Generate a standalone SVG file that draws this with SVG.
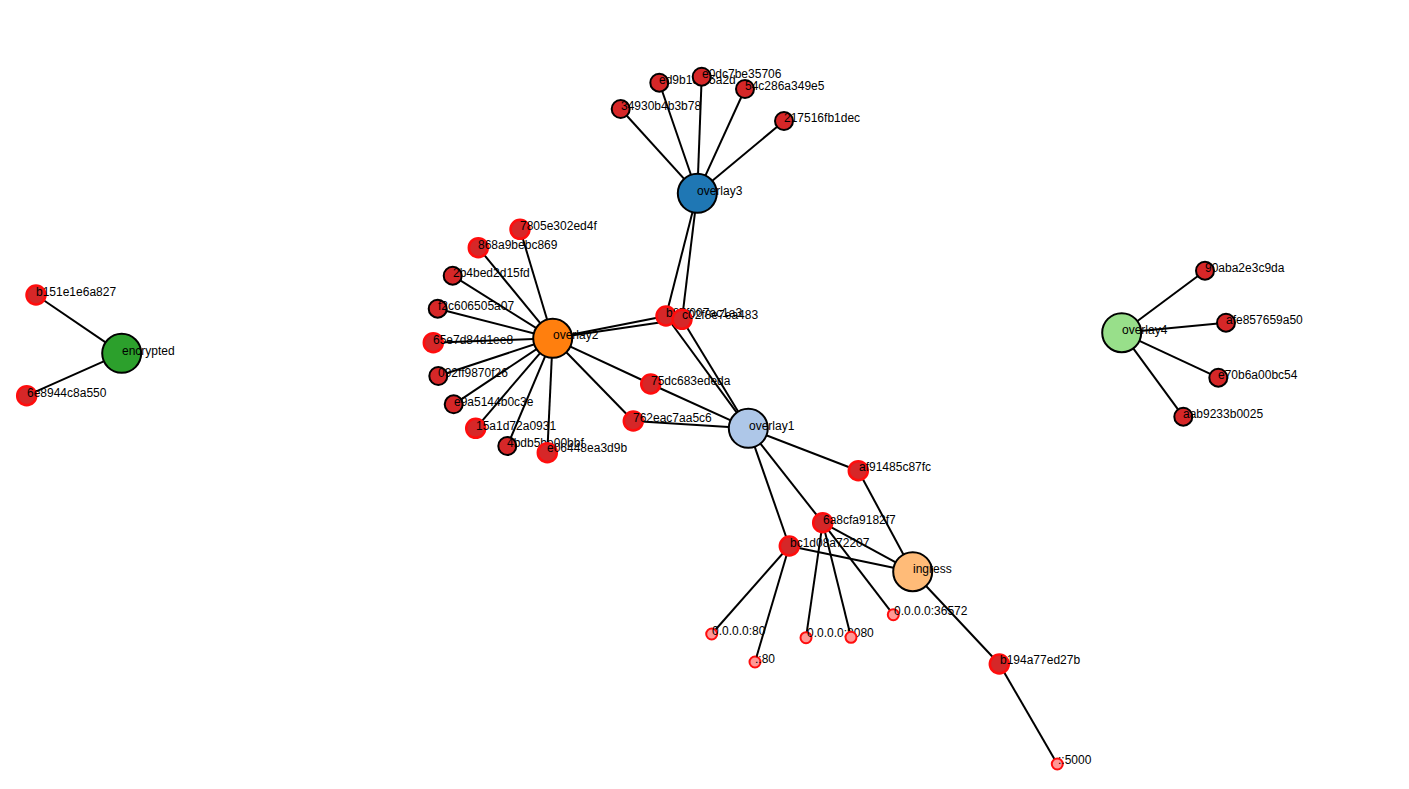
<svg xmlns="http://www.w3.org/2000/svg" width="1409" height="789" viewBox="0 0 1409 789">
<style>
.link{stroke:#000;stroke-width:2;fill:none}
.hub{stroke:#000;stroke-width:2}
.blk{fill:#d62728;stroke:#000;stroke-width:2}
.red{fill:#d62728;stroke:#ff0d0d;stroke-width:2.5}
.pink{fill:#ff9896;stroke:#ff0d0d;stroke-width:2}
text{font-family:"Liberation Sans",Arial,sans-serif;font-size:12px;fill:#000}
</style>
<rect width="1409" height="789" fill="#fff"/>
<g id="links">
<line class="link" x1="121.7" y1="353.3" x2="36" y2="295"/>
<line class="link" x1="121.7" y1="353.3" x2="26.7" y2="395.7"/>
<line class="link" x1="1121.7" y1="332.7" x2="1205" y2="270.7"/>
<line class="link" x1="1121.7" y1="332.7" x2="1226" y2="322.7"/>
<line class="link" x1="1121.7" y1="332.7" x2="1218.3" y2="377.7"/>
<line class="link" x1="1121.7" y1="332.7" x2="1183.3" y2="416.7"/>
<line class="link" x1="697.3" y1="193.3" x2="620.7" y2="109"/>
<line class="link" x1="697.3" y1="193.3" x2="659.3" y2="82.7"/>
<line class="link" x1="697.3" y1="193.3" x2="701.7" y2="76.7"/>
<line class="link" x1="697.3" y1="193.3" x2="745" y2="89"/>
<line class="link" x1="697.3" y1="193.3" x2="784" y2="121"/>
<line class="link" x1="697.3" y1="193.3" x2="666" y2="316"/>
<line class="link" x1="697.3" y1="193.3" x2="682" y2="319.3"/>
<line class="link" x1="552.7" y1="338.3" x2="520" y2="229.3"/>
<line class="link" x1="552.7" y1="338.3" x2="478.3" y2="247.7"/>
<line class="link" x1="552.7" y1="338.3" x2="452.7" y2="275.7"/>
<line class="link" x1="552.7" y1="338.3" x2="437.7" y2="308.7"/>
<line class="link" x1="552.7" y1="338.3" x2="433.3" y2="342.7"/>
<line class="link" x1="552.7" y1="338.3" x2="438.3" y2="376"/>
<line class="link" x1="552.7" y1="338.3" x2="453.7" y2="404.3"/>
<line class="link" x1="552.7" y1="338.3" x2="475.7" y2="428.3"/>
<line class="link" x1="552.7" y1="338.3" x2="507.3" y2="446"/>
<line class="link" x1="552.7" y1="338.3" x2="547.3" y2="452.7"/>
<line class="link" x1="552.7" y1="338.3" x2="666" y2="316"/>
<line class="link" x1="552.7" y1="338.3" x2="682" y2="319.3"/>
<line class="link" x1="552.7" y1="338.3" x2="650.7" y2="384"/>
<line class="link" x1="552.7" y1="338.3" x2="633.3" y2="421"/>
<line class="link" x1="748.3" y1="428.3" x2="666" y2="316"/>
<line class="link" x1="748.3" y1="428.3" x2="682" y2="319.3"/>
<line class="link" x1="748.3" y1="428.3" x2="650.7" y2="384"/>
<line class="link" x1="748.3" y1="428.3" x2="633.3" y2="421"/>
<line class="link" x1="748.3" y1="428.3" x2="858.3" y2="470.7"/>
<line class="link" x1="748.3" y1="428.3" x2="822.7" y2="522.7"/>
<line class="link" x1="748.3" y1="428.3" x2="789.3" y2="546"/>
<line class="link" x1="912.7" y1="571.7" x2="858.3" y2="470.7"/>
<line class="link" x1="912.7" y1="571.7" x2="822.7" y2="522.7"/>
<line class="link" x1="912.7" y1="571.7" x2="789.3" y2="546"/>
<line class="link" x1="912.7" y1="571.7" x2="999.3" y2="664"/>
<line class="link" x1="789.3" y1="546" x2="711.7" y2="634"/>
<line class="link" x1="789.3" y1="546" x2="755" y2="662"/>
<line class="link" x1="822.7" y1="522.7" x2="806" y2="637.7"/>
<line class="link" x1="822.7" y1="522.7" x2="851" y2="637.3"/>
<line class="link" x1="822.7" y1="522.7" x2="893.3" y2="614.7"/>
<line class="link" x1="999.3" y1="664" x2="1057.3" y2="764"/>
</g>
<g id="n-b151e1e6a827"><circle class="red" cx="36" cy="295" r="9.5"/><text x="36" y="296">b151e1e6a827</text></g>
<g id="n-6e8944c8a550"><circle class="red" cx="26.7" cy="395.7" r="9.5"/><text x="27" y="397">6e8944c8a550</text></g>
<g id="n-encrypted"><circle class="hub" fill="#2ca02c" cx="121.7" cy="353.3" r="19.5"/><text x="122" y="355">encrypted</text></g>
<g id="n-90aba2e3c9da"><circle class="blk" cx="1205" cy="270.7" r="9"/><text x="1205" y="272">90aba2e3c9da</text></g>
<g id="n-afe857659a50"><circle class="blk" cx="1226" cy="322.7" r="9"/><text x="1226" y="324">afe857659a50</text></g>
<g id="n-e70b6a00bc54"><circle class="blk" cx="1218.3" cy="377.7" r="9"/><text x="1218" y="379">e70b6a00bc54</text></g>
<g id="n-aab9233b0025"><circle class="blk" cx="1183.3" cy="416.7" r="9"/><text x="1183" y="418">aab9233b0025</text></g>
<g id="n-overlay4"><circle class="hub" fill="#98df8a" cx="1121.7" cy="332.7" r="19.5"/><text x="1122" y="334">overlay4</text></g>
<g id="n-34930b4b3b78"><circle class="blk" cx="620.7" cy="109" r="9"/><text x="621" y="110">34930b4b3b78</text></g>
<g id="n-ed9b19f05a2d"><circle class="blk" cx="659.3" cy="82.7" r="9"/><text x="659" y="84">ed9b19f05a2d</text></g>
<g id="n-e0dc7be35706"><circle class="blk" cx="701.7" cy="76.7" r="9"/><text x="702" y="78">e0dc7be35706</text></g>
<g id="n-54c286a349e5"><circle class="blk" cx="745" cy="89" r="9"/><text x="745" y="90">54c286a349e5</text></g>
<g id="n-217516fb1dec"><circle class="blk" cx="784" cy="121" r="9"/><text x="784" y="122">217516fb1dec</text></g>
<g id="n-overlay3"><circle class="hub" fill="#1f77b4" cx="697.3" cy="193.3" r="19.5"/><text x="697" y="195">overlay3</text></g>
<g id="n-7805e302ed4f"><circle class="red" cx="520" cy="229.3" r="9.5"/><text x="520" y="230">7805e302ed4f</text></g>
<g id="n-868a9bebc869"><circle class="red" cx="478.3" cy="247.7" r="9.5"/><text x="478" y="249">868a9bebc869</text></g>
<g id="n-2b4bed2d15fd"><circle class="blk" cx="452.7" cy="275.7" r="9"/><text x="453" y="277">2b4bed2d15fd</text></g>
<g id="n-f2c606505a07"><circle class="blk" cx="437.7" cy="308.7" r="9"/><text x="438" y="310">f2c606505a07</text></g>
<g id="n-65e7d84d1ee8"><circle class="red" cx="433.3" cy="342.7" r="9.5"/><text x="433" y="344">65e7d84d1ee8</text></g>
<g id="n-092ff9870f26"><circle class="blk" cx="438.3" cy="376" r="9"/><text x="438" y="377">092ff9870f26</text></g>
<g id="n-e9a5144b0c3e"><circle class="blk" cx="453.7" cy="404.3" r="9"/><text x="454" y="406">e9a5144b0c3e</text></g>
<g id="n-15a1d72a0931"><circle class="red" cx="475.7" cy="428.3" r="9.5"/><text x="476" y="430">15a1d72a0931</text></g>
<g id="n-4bdb5be00bbf"><circle class="blk" cx="507.3" cy="446" r="9"/><text x="507" y="447">4bdb5be00bbf</text></g>
<g id="n-e06448ea3d9b"><circle class="red" cx="547.3" cy="452.7" r="9.5"/><text x="547" y="452">e06448ea3d9b</text></g>
<g id="n-overlay2"><circle class="hub" fill="#ff7f0e" cx="552.7" cy="338.3" r="19.5"/><text x="553" y="339">overlay2</text></g>
<g id="n-b87f007ac1a3"><circle class="red" cx="666" cy="316" r="9.5"/><text x="666" y="317">b87f007ac1a3</text></g>
<g id="n-c02f8e7ea483"><circle class="red" cx="682" cy="319.3" r="9.5"/><text x="682" y="319">c02f8e7ea483</text></g>
<g id="n-75dc683ededa"><circle class="red" cx="650.7" cy="384" r="9.5"/><text x="651" y="385">75dc683ededa</text></g>
<g id="n-762eac7aa5c6"><circle class="red" cx="633.3" cy="421" r="9.5"/><text x="633" y="422">762eac7aa5c6</text></g>
<g id="n-overlay1"><circle class="hub" fill="#aec7e8" cx="748.3" cy="428.3" r="19.5"/><text x="749" y="430">overlay1</text></g>
<g id="n-af91485c87fc"><circle class="red" cx="858.3" cy="470.7" r="9.5"/><text x="859" y="471">af91485c87fc</text></g>
<g id="n-bc1d08a72207"><circle class="red" cx="789.3" cy="546" r="9.5"/><text x="790" y="547">bc1d08a72207</text></g>
<g id="n-6a8cfa9182f7"><circle class="red" cx="822.7" cy="522.7" r="9.5"/><text x="823" y="524">6a8cfa9182f7</text></g>
<g id="n-ingress"><circle class="hub" fill="#ffbb78" cx="912.7" cy="571.7" r="19.5"/><text x="913" y="573">ingress</text></g>
<g id="n-0.0.0.0-80"><circle class="pink" cx="711.7" cy="634" r="5.5"/><text x="712" y="635">0.0.0.0:80</text></g>
<g id="n-80"><circle class="pink" cx="755" cy="662" r="5.5"/><text x="755" y="663">::80</text></g>
<g id="n-0.0.0.0-8080"><circle class="pink" cx="806" cy="637.7" r="5.5"/><text x="807" y="637">0.0.0.0:8080</text></g>
<g id="n-0.0.0.0-8080b"><circle class="pink" cx="851" cy="637.3" r="5.5"/></g>
<g id="n-0.0.0.0-36572"><circle class="pink" cx="893.3" cy="614.7" r="5.5"/><text x="894" y="615">0.0.0.0:36572</text></g>
<g id="n-b194a77ed27b"><circle class="red" cx="999.3" cy="664" r="9.5"/><text x="1000" y="664">b194a77ed27b</text></g>
<g id="n-5000"><circle class="pink" cx="1057.3" cy="764" r="5.5"/><text x="1058" y="764">::5000</text></g>
</svg>
